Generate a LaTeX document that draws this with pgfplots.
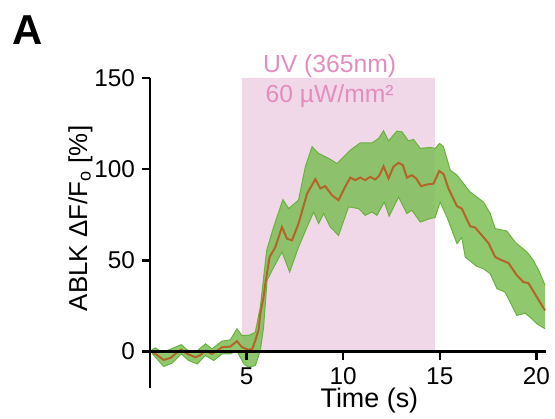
\documentclass[border=0pt]{standalone}
\usepackage{fontspec}
\setmainfont{Liberation Sans}
\usepackage{pgfplots}
\pgfplotsset{compat=1.18}
\usepgfplotslibrary{fillbetween}
\definecolor{uvpink}{RGB}{241,216,233}
\definecolor{uvtext}{RGB}{227,140,191}
\definecolor{bandgreen}{RGB}{125,190,85}
\definecolor{bandedge}{RGB}{105,178,62}
\definecolor{meanbrown}{RGB}{180,100,40}
\begin{document}
\begin{tikzpicture}
\node[font=\fontsize{21}{24}\selectfont\bfseries] at (14bp,194.5bp) {A};
\begin{axis}[
  set layers,
  at={(75bp,15.5bp)}, anchor=south west,
  scale only axis, width=198bp, height=155bp,
  xmin=0, xmax=20.5, ymin=-20, ymax=150,
  axis x line=middle, axis y line=left,
  axis line style={-, line width=1.2bp, black},
  axis on top,
  clip=false,
  xtick={5,10,15,20}, ytick={0,50,100,150},
  tick align=outside,
  major tick length=4bp,
  tick style={line width=1.2bp, black},
  /pgf/number format/assume math mode=true,
  ticklabel style={font=\fontsize{12.2}{14}\selectfont},
  xticklabel style={inner sep=0.3bp, yshift=-3.6bp},
  xlabel={Time (s)},
  xlabel style={font=\fontsize{13.5}{16}\selectfont, inner sep=0pt, at={(axis description cs:0.554,-0.040)}, anchor=center},
  ylabel={ABLK ΔF/F\textsubscript{o} [\%]},
  ylabel style={font=\fontsize{13}{15}\selectfont, at={(axis description cs:-0.176,0.547)}, anchor=center},
]
\addplot[fill=uvpink, draw=none, on layer=axis background] coordinates {(4.75,0) (4.75,150) (14.75,150) (14.75,0) (4.75,0)};

\addplot[name path=U, draw=bandedge, line width=0.5bp] coordinates {
(0.1,1) (0.28,2) (0.63,-0.4) (0.97,0.9) (1.31,2.4) (1.62,3.8) (1.92,0.9) (2.35,-0.4)
(2.87,4.2) (3.21,1.5) (3.73,5.7) (4.16,6.4) (4.5,12.5) (4.76,8.8) (5.1,8.8) (5.45,10.5)
(5.71,24.3) (6.04,55.5) (6.4,68.3) (6.88,83.3) (7.18,78.4) (7.69,83) (8.04,101.3)
(8.39,112.3) (8.73,108.6) (9.25,105.9) (9.68,103.1) (10.37,110.4) (10.88,114.4)
(11.49,114.4) (11.83,116.8) (12.09,121) (12.35,115.5) (12.78,120.9) (13.04,120.5)
(13.38,115.5) (13.64,116.3) (13.99,111.4) (14.5,111.9) (14.76,111.4) (14.99,114.1)
(15.19,112.3) (15.54,99.5) (15.89,96.7) (16.57,87.5) (17.26,82) (17.61,75.7)
(17.87,67.4) (18.47,66.1) (18.9,60) (19.51,54.6) (19.85,50) (20.2,42.7) (20.45,36.3)
};
\addplot[name path=L, draw=bandedge, line width=0.5bp] coordinates {
(0.1,-1) (0.28,-3.1) (0.71,-8.2) (1.14,-6.4) (1.62,-1.3) (2.0,-4.9) (2.44,-6.8)
(2.87,-2.2) (3.3,-4.9) (3.73,-1.3) (4.16,-1.3) (4.5,0.5) (4.85,-6.8) (5.1,-8.6)
(5.45,-7.7) (5.71,0.5) (5.88,13.4) (6.06,39) (6.32,44.5) (6.83,54.6) (7.23,43.6)
(7.69,57.3) (8.13,68.3) (8.47,76.5) (8.73,70.2) (8.99,75.7) (9.33,68.3) (9.76,63.7)
(10.28,79.3) (10.8,78.4) (11.14,74.7) (11.49,76.5) (11.75,74.7) (12.13,82)
(12.38,74.2) (12.87,84.8) (13.3,75.7) (13.56,77.5) (13.99,71) (14.5,72.9)
(14.76,73.5) (15.02,82) (15.37,73.8) (15.89,59.2) (16.14,62.5) (16.32,51.8)
(16.92,46.7) (17.26,45.4) (17.61,42.7) (17.96,34.5) (18.38,32.6) (18.73,25.3)
(18.99,19.8) (19.42,21) (19.68,18.8) (20.03,15.2) (20.45,12.5)
};
\addplot[fill=bandgreen, fill opacity=0.85, draw=none] fill between[of=U and L];

\addplot[meanbrown, line width=1bp] coordinates {
(0.1,0) (0.28,-1.3) (0.71,-4.6) (1.06,-3.5) (1.35,-1) (1.62,1) (1.92,-1.3) (2.35,-3.1)
(2.6,-2) (2.87,0.5) (3.2,-1.3) (3.5,0.5) (3.73,2.4) (4.16,2.7) (4.5,5.7) (4.76,2.4)
(5.1,0.9) (5.3,1.5) (5.45,6) (5.62,12) (5.71,20.7) (5.88,30) (5.97,37.2) (6.19,51.8)
(6.49,57.3) (6.83,68.3) (7.09,61.9) (7.35,61) (7.69,70.2) (8.13,86.6) (8.56,94.5)
(8.82,89.4) (9.07,90.7) (9.42,85.7) (9.76,83) (10.1,90.3) (10.37,95.4) (10.63,94)
(10.88,95.4) (11.14,94) (11.4,95.8) (11.66,94.3) (11.88,96.7) (12.09,101.6)
(12.35,94.9) (12.6,101.3) (12.87,103.5) (13.09,102.2) (13.3,95.4) (13.56,96.7)
(13.78,94.9) (14.03,90.7) (14.34,91.6) (14.68,92.1) (14.97,99) (15.2,97.3)
(15.45,89.4) (15.89,79.7) (16.14,78.4) (16.57,68.7) (16.83,68) (17.52,59.5)
(17.87,51.8) (18.22,50) (18.56,48.5) (18.99,41.8) (19.33,38.1) (19.59,37.5)
(20.03,29.8) (20.45,22.5)
};

\node[text=uvtext, align=center, font=\fontsize{12.4}{14.6}\selectfont] at (axis cs:9.3,148.3) {UV (365nm)\\60 µW/mm²};
\end{axis}
\pgfresetboundingbox
\useasboundingbox (0,0) rectangle (277.5bp,209.5bp);
\end{tikzpicture}
\end{document}
